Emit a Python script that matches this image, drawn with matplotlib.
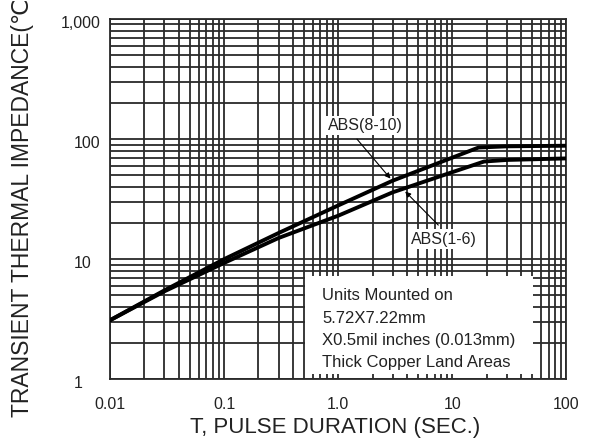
import matplotlib
matplotlib.use('Agg')
import matplotlib.pyplot as plt
from matplotlib.patches import Rectangle
from matplotlib.transforms import ScaledTranslation

plt.rcParams['font.family'] = ['Liberation Sans', 'DejaVu Sans']

# 读图数据
t_upper = [0.01, 0.03, 0.1, 0.3, 1.0, 3.0, 10, 17, 30, 100]
z_upper = [3.1, 5.5, 10, 16.5, 28, 45, 70, 85, 87, 88]
t_lower = [0.01, 0.03, 0.1, 0.3, 1.0, 3.0, 10, 19, 30, 100]
z_lower = [3.1, 5.4, 9.3, 15, 23, 36, 53, 65, 67, 69]

x_ticks = [0.01, 0.1, 1, 10, 100]
x_labels = ['0.01', '0.1', '1.0', '10', '100']
y_ticks = [1, 10, 100, 1000]
y_labels = ['1', '10', '100', '1,000']

note_lines = ['Units Mounted on', '5.72X7.22mm',
              'X0.5mil inches (0.013mm)', 'Thick Copper Land Areas']

fig = plt.figure(figsize=(5.98, 4.41), dpi=100)
ax = fig.add_axes([0.184, 0.140, 0.763, 0.817])
ax.set_xscale('log')
ax.set_yscale('log')
ax.set_xlim(0.01, 100)
ax.set_ylim(1, 1000)
ax.set_axisbelow(True)

ax.grid(True, which='both', color='#2a2a2a', lw=1.3)
ax.tick_params(which='both', length=0)
ax.tick_params(axis='x', pad=13, labelsize=11.5, colors='#222')
ax.tick_params(axis='y', pad=7, labelsize=11.5, colors='#222')
ax.set_xticks(x_ticks)
ax.set_xticklabels(x_labels)
ax.set_yticks(y_ticks)
ax.set_yticklabels(y_labels)
ax.xaxis.set_minor_formatter(plt.NullFormatter())
ax.yaxis.set_minor_formatter(plt.NullFormatter())
for sp in ax.spines.values():
    sp.set_color('#2a2a2a')
    sp.set_linewidth(1.3)

# 左对齐的 y 标签 (1, 10, 100)
shift = ScaledTranslation(-0.27, -0.03, fig.dpi_scale_trans)
for lab in ax.get_yticklabels():
    if lab.get_text() != '1,000':
        lab.set_horizontalalignment('left')
        lab.set_transform(lab.get_transform() + shift)
    else:
        lab.set_transform(lab.get_transform() + ScaledTranslation(0, -0.03, fig.dpi_scale_trans))

ax.plot(t_upper, z_upper, color='black', lw=2.8, zorder=3, solid_joinstyle='round')
ax.plot(t_lower, z_lower, color='black', lw=2.8, zorder=3, solid_joinstyle='round')

# 标注
ax.text(1.73, 130, 'ABS(8-10)', fontsize=11.5, ha='center', va='center', color='#222',
        zorder=5, bbox=dict(facecolor='white', edgecolor='none', pad=1.5))
ax.annotate('', xy=(2.98, 45), xytext=(1.41, 104), zorder=4,
            arrowprops=dict(arrowstyle='-|>', color='black', lw=0.8, mutation_scale=8))
ax.text(8.5, 14.7, 'ABS(1-6)', fontsize=11.5, ha='center', va='center', color='#222',
        zorder=5, bbox=dict(facecolor='white', edgecolor='none', pad=1.5))
ax.annotate('', xy=(3.72, 38), xytext=(7.85, 18.5), zorder=4,
            arrowprops=dict(arrowstyle='-|>', color='black', lw=0.8, mutation_scale=8))

ax.add_patch(Rectangle((0.428, 0.014), 0.50, 0.273, transform=ax.transAxes,
                       facecolor='white', edgecolor='none', zorder=1))
for i, line in enumerate(note_lines):
    ax.text(0.465, 0.232 - i * 0.062, line, transform=ax.transAxes, fontsize=12,
            va='center', ha='left', color='#222', zorder=5)

fig.text(0.56, 1 - 427 / 441, 'T, PULSE DURATION (SEC.)', fontsize=16,
         ha='center', va='center', color='#222')
fig.text(23 / 598, 1 - 417 / 441, 'TRANSIENT THERMAL IMPEDANCE(℃/W)', fontsize=16.5,
         rotation=90, ha='center', va='bottom', color='#222')

fig.savefig('out.png', dpi=100, facecolor='white')
